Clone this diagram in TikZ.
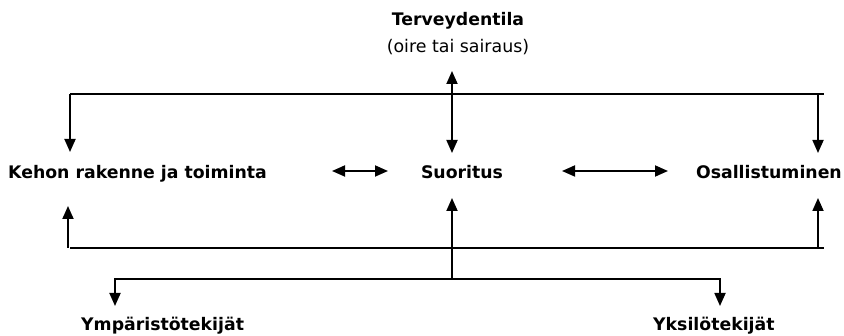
\documentclass[tikz,border=0pt]{standalone}
\usepackage{fontspec}
\setmainfont{DejaVu Sans}
\usetikzlibrary{arrows.meta}
\tikzset{
  lbl/.style={inner sep=0pt, font=\fontsize{17.3}{20}\selectfont\bfseries},
  sub/.style={inner sep=0pt, font=\fontsize{17.4}{20}\selectfont},
  conn/.style={line width=1.8pt, draw=black},
  tip/.style={-{Triangle[width=11pt,length=13pt]}},
  dtip/.style={{Triangle[width=11pt,length=13pt]}-{Triangle[width=11pt,length=13pt]}}
}
\begin{document}
\begin{tikzpicture}[x=1pt,y=-1pt]
\useasboundingbox (0,0) rectangle (844,336);
% texts
\node[lbl, anchor=base] (terv) at (458,26) {Terveydentila};
\node[sub, anchor=base] (oire) at (458,53) {(oire tai sairaus)};
\node[lbl, anchor=base west] (kehon) at (8,179) {Kehon rakenne ja toiminta};
\node[lbl, anchor=base] (suor) at (462,179) {Suoritus};
\node[lbl, anchor=base east] (osal) at (842,179) {Osallistuminen};
\node[lbl, anchor=base west] (ymp) at (81,331) {Ympäristötekijät};
\node[lbl, anchor=base west] (yks) at (653,331) {Yksilötekijät};
% bus coordinates
\coordinate (tl) at (70,94);
\coordinate (tr) at (824,94);
\coordinate (trv) at (818,94);
\coordinate (bl) at (70,248);
\coordinate (blv) at (68,248);
\coordinate (br) at (824,248);
\coordinate (brv) at (818,248);
\coordinate (ctop) at (452,71);
\coordinate (cmid) at (452,153);
\coordinate (cbot) at (452,279);
\coordinate (cup) at (452,198);
\coordinate (ktip) at (70,152);
\coordinate (otip) at (818,153);
\coordinate (kup) at (68,206);
\coordinate (oup) at (818,198);
\coordinate (yl) at (115,279);
\coordinate (yr) at (720,279);
\coordinate (yltip) at (115,306);
\coordinate (yrtip) at (720,306);
\coordinate (a1) at (332,171);
\coordinate (a2) at (388,171);
\coordinate (a3) at (562,171);
\coordinate (a4) at (668,171);
% top bus
\draw[conn] (tl) -- (tr);
\draw[conn, tip] (tl) -- (ktip);
\draw[conn, tip] (trv) -- (otip);
\draw[conn, dtip] (ctop) -- (cmid);
% middle double arrows
\draw[conn, dtip] (a1) -- (a2);
\draw[conn, dtip] (a3) -- (a4);
% bottom bus
\draw[conn] (bl) -- (br);
\draw[conn, tip] (blv) -- (kup);
\draw[conn, tip] (brv) -- (oup);
\draw[conn, tip] (cbot) -- (cup);
% branch
\draw[conn, tip] (cbot) -- (yl) -- (yltip);
\draw[conn, tip] (cbot) -- (yr) -- (yrtip);
\end{tikzpicture}
\end{document}
